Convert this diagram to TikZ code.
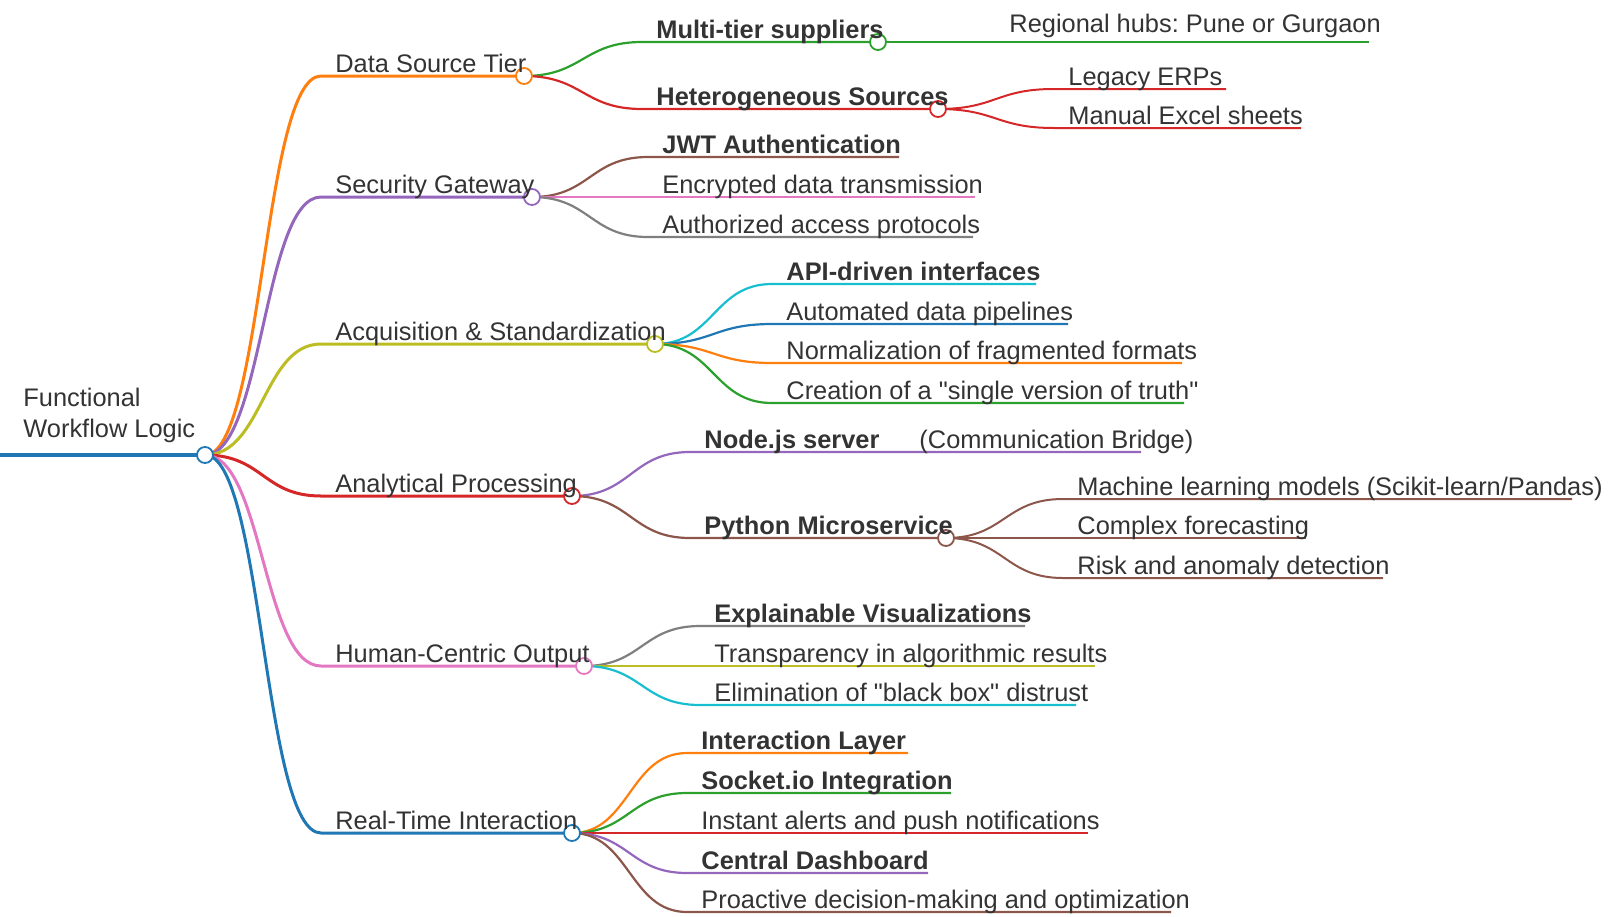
\documentclass[tikz,border=0pt]{standalone}
\usepackage{fontspec}
\setmainfont{Liberation Sans}[Ligatures=TeXOff]
\usetikzlibrary{calc,backgrounds}
\frenchspacing

\definecolor{ink}{HTML}{333333}
\definecolor{cblue}{HTML}{1F77B4}
\definecolor{corange}{HTML}{FF7F0E}
\definecolor{cgreen}{HTML}{2CA02C}
\definecolor{cred}{HTML}{D62728}
\definecolor{cpurple}{HTML}{9467BD}
\definecolor{cbrown}{HTML}{8C564B}
\definecolor{cpink}{HTML}{E377C2}
\definecolor{cgray}{HTML}{7F7F7F}
\definecolor{colive}{HTML}{BCBD22}
\definecolor{ccyan}{HTML}{17BECF}

% children of one parent: name/y/end x/colour/label style/label
\newcommand{\sprout}[4]{%
  \foreach \nm/\yy/\xe/\col/\sty/\txt in {#4}{
    \coordinate (\nm-in) at (#2,\yy);
    \coordinate (\nm) at (\xe,\yy);
    \begin{pgfonlayer}{background}
      \draw[#3,\col] (#1) to[link] (\nm-in) -- (\nm);
    \end{pgfonlayer}
    \node[\sty] (\nm-txt) at ([xshift=7pt,yshift=2pt]\nm-in) {\txt};
  }}

\begin{document}
\begin{tikzpicture}[x=0.5pt,y=-0.5pt,
  every node/.style={font=\fontsize{12.7}{15.5}\selectfont,text=ink},
  topic/.style={anchor=base west,inner sep=0pt},
  key/.style={topic,font=\fontsize{12.7}{15.5}\selectfont\bfseries},
  raised/.style={topic,yshift=3pt},
  knot/.style={circle,draw,fill=white,inner sep=0pt,minimum size=8pt,line width=0.9pt},
  link/.style={to path={.. controls ($(\tikztostart)!.5!(\tikztostart -| \tikztotarget)$)
      and ($(\tikztotarget)!.5!(\tikztotarget -| \tikztostart)$) .. (\tikztotarget)}},
  trunk/.style={line width=1.5pt},
  limb/.style={line width=1.1pt},
  twig/.style={line width=1pt}]
  \useasboundingbox (0,0) rectangle (1609,916);

  % root
  \coordinate (root-in) at (0,455);
  \coordinate (root) at (205,455);
  \begin{pgfonlayer}{background}
    \draw[line width=1.75pt,cblue] (root-in) -- (root);
  \end{pgfonlayer}
  \node[topic,align=left] (root-txt) at (23,437) {Functional\\Workflow Logic};

  % main branches
  \sprout{root}{321}{trunk}{
    ds/76/524/corange/topic/Data Source Tier,
    sg/197/532/cpurple/topic/Security Gateway,
    acq/344/655/colive/topic/Acquisition \& Standardization,
    ap/496/572/cred/topic/Analytical Processing,
    hc/666/584/cpink/topic/Human-Centric Output,
    rt/833/572/cblue/topic/Real-Time Interaction}

  % second level
  \sprout{ds}{642}{limb}{
    mts/42/878/cgreen/key/Multi-tier suppliers,
    hs/109/938/cred/key/Heterogeneous Sources}
  \sprout{sg}{648}{limb}{
    jwt/157/899/cbrown/key/JWT Authentication,
    enc/197/975/cpink/topic/Encrypted data transmission,
    aut/237/973/cgray/topic/Authorized access protocols}
  \sprout{acq}{772}{limb}{
    api/284/1036/ccyan/key/API-driven interfaces,
    pipe/324/1068/cblue/topic/Automated data pipelines,
    norm/363/1182/corange/topic/Normalization of fragmented formats,
    truth/403/1184/cgreen/topic/Creation of a "single version of truth"}
  \sprout{ap}{690}{limb}{
    njs/452/1141/cpurple/topic/{{\bfseries Node.js server}\hspace{20pt}(Communication Bridge)},
    pms/538/946/cbrown/key/Python Microservice}
  \sprout{hc}{700}{limb}{
    expl/626/1025/cgray/key/Explainable Visualizations,
    tra/666/1095/colive/topic/Transparency in algorithmic results,
    elim/705/1076/ccyan/topic/Elimination of "black box" distrust}
  \sprout{rt}{687}{limb}{
    il/753/908/corange/key/Interaction Layer,
    sio/793/951/cgreen/key/Socket.io Integration,
    ia/833/1088/cred/topic/Instant alerts and push notifications,
    cd/873/928/cpurple/key/Central Dashboard,
    pdm/912/1171/cbrown/topic/Proactive decision-making and optimization}

  % third level
  \sprout{mts}{995}{twig}{
    hub/42/1369/cgreen/raised/Regional hubs: Pune or Gurgaon}
  \sprout{hs}{1054}{twig}{
    erp/89/1226/cred/topic/Legacy ERPs,
    xls/128/1301/cred/topic/Manual Excel sheets}
  \sprout{pms}{1063}{twig}{
    ml/499/1572/cbrown/topic/{Machine learning models (Scikit-learn/Pandas)},
    fc/538/1306/cbrown/topic/Complex forecasting,
    risk/578/1383/cbrown/topic/Risk and anomaly detection}

  % open circles on the branching points
  \begin{pgfonlayer}{background}
    \foreach \nm/\col in {root/cblue,ds/corange,sg/cpurple,acq/colive,ap/cred,
        hc/cpink,rt/cblue,mts/cgreen,hs/cred,pms/cbrown}
      \node[knot,draw=\col] at (\nm) {};
  \end{pgfonlayer}
\end{tikzpicture}
\end{document}
